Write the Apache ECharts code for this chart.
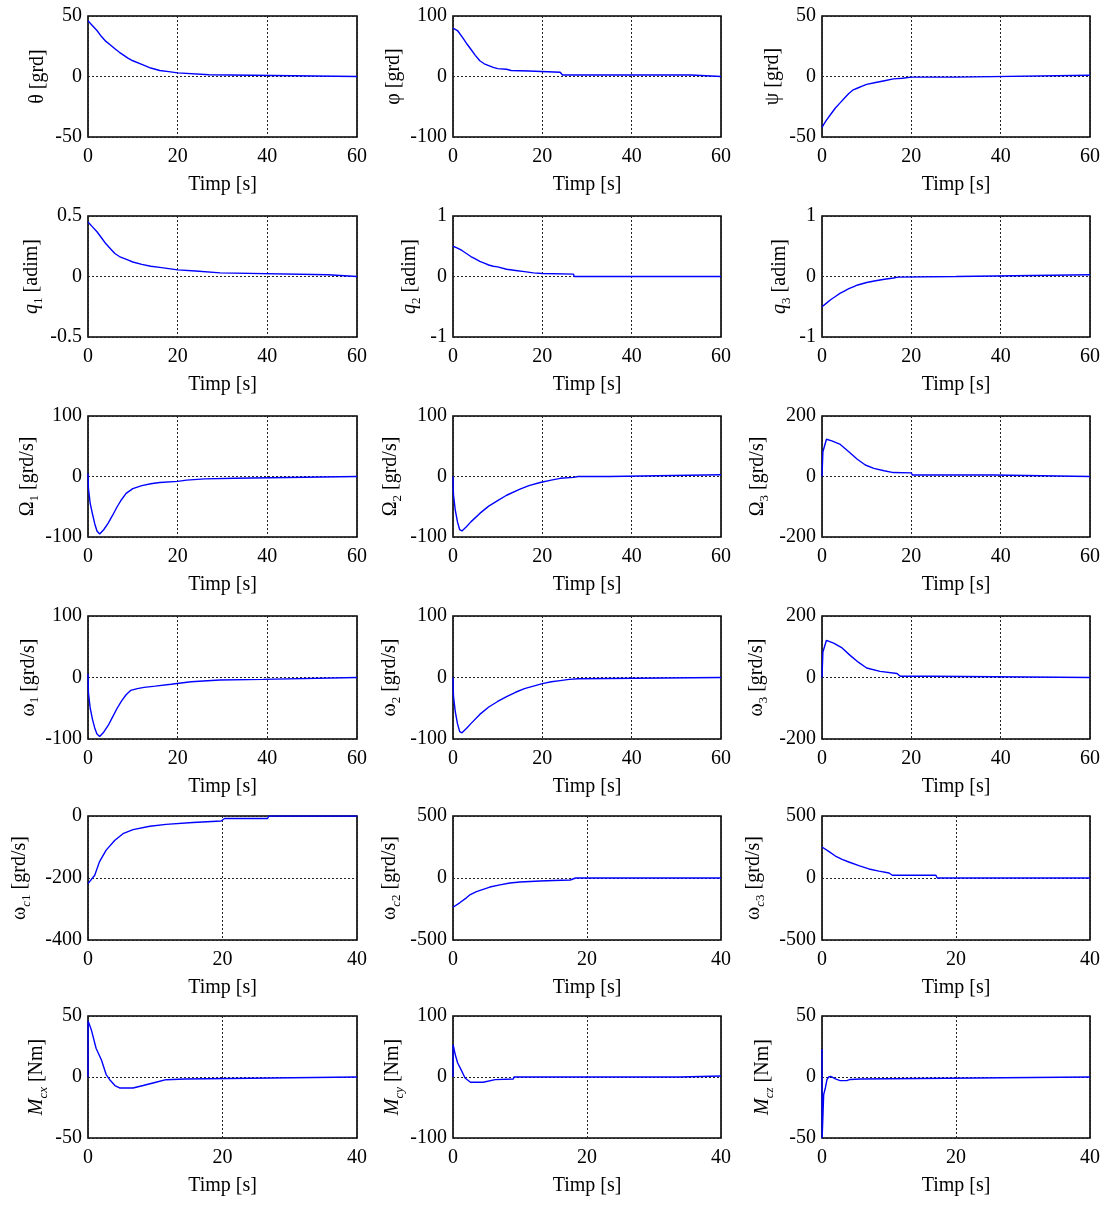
<!DOCTYPE html>
<html><head><meta charset="utf-8">
<script src="https://cdn.jsdelivr.net/npm/echarts@6/dist/echarts.min.js"></script>
<style>html,body{margin:0;padding:0;background:#fff}#c{width:1104px;height:1205px}</style>
</head><body><div id="c"></div>
<script>
// ---- data (time [s], value) ----
const theta = [[0,46],[1,42],[2,38],[3,33],[4,29],[5,26],[6,23],[7,20],[8,17.5],[9,15],[10,13],[12,10],[14,7],[16,5],[18,4],[20,3],[20.2,1.5],[27,1.5],[27.2,0],[60,0]];
const phi = [[0,80],[1,76],[2,66],[3,55],[4,45],[5,35],[6,26],[7,21],[8,18],[9,15],[10,13],[12,12],[13,10],[17,9],[17.2,7],[24,7],[24.5,2.5],[53.3,2.5],[53.5,0],[60,0]];
const psi = [[0,-42],[0.5,-39],[1,-36],[2,-31],[3,-26],[4,-22],[5,-18],[6,-14],[7,-11],[8,-9.5],[9,-8],[10,-6.5],[12,-5],[14,-3.5],[16,-2],[18,-1.5],[20,-0.5],[30,-0.5],[30.3,1],[60,1]];
const q1 = [[0,0.45],[1,0.41],[2,0.37],[3,0.32],[4,0.27],[5,0.23],[6,0.19],[7,0.165],[8,0.15],[9,0.135],[10,0.12],[12,0.1],[14,0.085],[16,0.075],[18,0.065],[20,0.055],[20.1,0.045],[24,0.045],[24.1,0.03],[29.5,0.03],[29.6,0.015],[53.5,0.015],[53.6,0],[60,0]];
const q2 = [[0,0.5],[1,0.47],[2,0.43],[3,0.38],[4,0.33],[5,0.29],[6,0.25],[7,0.22],[8,0.19],[9,0.17],[10,0.16],[12,0.12],[14,0.1],[16,0.08],[18,0.06],[20,0.05],[20.2,0.04],[27,0.04],[27.1,0],[60,0]];
const q3 = [[0,-0.5],[1,-0.44],[2,-0.38],[3,-0.33],[4,-0.28],[5,-0.24],[6,-0.2],[7,-0.17],[8,-0.14],[9,-0.12],[10,-0.1],[12,-0.07],[14,-0.045],[16,-0.025],[17,-0.01],[17.2,0],[30,0],[30.2,0.03],[60,0.03]];
const Om1 = [[0,5],[0.1,-20],[0.5,-45],[1,-62],[1.5,-78],[2,-90],[2.6,-95],[3.5,-88],[4.5,-77],[5.5,-64],[6.5,-50],[7.5,-38],[8.5,-28],[10,-20],[12,-15],[14,-12],[16,-10],[20,-8],[22,-6],[26,-4],[32.7,-3],[33,0],[60,0]];
const Om2 = [[0,0],[0.1,-30],[0.5,-55],[1,-75],[1.5,-88],[2,-90],[3,-83],[4,-75],[6,-61],[8,-49],[10,-40],[12,-31],[15,-21],[17,-15],[19.5,-10],[22,-6],[24,-3],[27,-1.5],[28,0],[35,0],[35.1,3],[60,3]];
const Om3 = [[0,0],[0.2,82],[1,123],[2.2,118],[4.1,106],[6,82],[7.9,57],[9.7,38],[11.6,27],[13.9,19],[16,13],[20,12],[20.2,5],[38.4,5],[38.6,0],[60,0]];
const om1 = [[0,6],[0.1,-25],[0.5,-50],[1,-68],[1.5,-82],[2,-92],[2.6,-96],[3.5,-89],[4.5,-78],[5.5,-64],[6.5,-50],[7.5,-38],[8.5,-28],[9.5,-21],[11,-18],[12.5,-16],[15,-14],[18.5,-11],[23,-7],[29.4,-4],[39,-3],[39.2,0],[60,0]];
const om2 = [[0,0],[0.1,-30],[0.5,-55],[1,-75],[1.5,-88],[2,-90],[3,-83],[4,-75],[6,-60],[8,-48],[10,-39],[12,-31],[14,-24],[16,-18],[18,-14],[20,-10],[22,-7],[24,-5],[26,-3],[28,-2],[28.2,0],[60,0]];
const om3 = [[0,0],[0.2,83],[1,121],[2.6,112],[4.5,96],[6.3,72],[8.2,49],[10,31],[13,20],[16.8,13],[17.5,4],[24.6,4],[24.8,0],[60,0]];
const omc1 = [[0,-218],[1,-191],[1.7,-148],[2.7,-110],[4,-78],[5.2,-57],[6.7,-44],[9.2,-33],[11.6,-27],[15.6,-21],[19.8,-16],[20.3,-8],[26.7,-8],[26.9,0],[40,0]];
const omc2 = [[0,-236],[1,-200],[2,-160],[2.5,-137],[3.5,-110],[5.5,-73],[7,-55],[8.5,-40],[10,-32],[13,-24],[15,-20],[17.5,-16],[18.3,0],[40,0]];
const omc3 = [[0,250],[1,215],[2,177],[3,150],[4,129],[5.5,100],[7,73],[8.5,55],[10,40],[10.5,22],[17,22],[17.2,0],[40,0]];
const Mcx = [[0,0],[0.02,46],[0.5,38.6],[1.2,23.6],[2,14],[2.7,2],[3.2,-2],[4,-7],[4.7,-9],[6.7,-9],[8.2,-7],[10.1,-4.3],[11.6,-2.2],[14.4,-1.6],[14.6,0],[40,0]];
const Mcy = [[0,0],[0.02,53],[0.35,36],[0.7,23],[1.2,12],[1.8,-1.6],[2.6,-8.7],[4.5,-8.7],[4.7,-6.5],[6.3,-4.3],[9,-3.3],[9.1,0],[33.8,0],[34,1.6],[40,1.6]];
const Mcz = [[0,23],[0.02,-50],[0.15,-30],[0.25,-14.5],[0.5,-9],[0.75,-2],[1,0],[1.3,0.5],[2,-1.6],[2.7,-3],[3.7,-3],[4.2,-2],[5.7,-1.6],[5.9,0],[40,0]];

const seriesData = [theta,phi,psi,q1,q2,q3,Om1,Om2,Om3,om1,om2,om3,omc1,omc2,omc3,Mcx,Mcy,Mcz];
const yMins = [-50,-100,-50,-0.5,-1,-1,-100,-100,-200,-100,-100,-200,-400,-500,-500,-50,-100,-50];
const yMaxs = [50,100,50,0.5,1,1,100,100,200,100,100,200,0,500,500,50,100,50];
const xMaxs = [60,60,60,60,60,60,60,60,60,60,60,60,40,40,40,40,40,40];
const xTickStep = 20;
const xName = 'Timp [s]';
const yNames = [
  'θ [grd]','φ [grd]','ψ [grd]',
  '{i|q}{s|1} [adim]','{i|q}{s|2} [adim]','{i|q}{s|3} [adim]',
  'Ω{s|1} [grd/s]','Ω{s|2} [grd/s]','Ω{s|3} [grd/s]',
  'ω{s|1} [grd/s]','ω{s|2} [grd/s]','ω{s|3} [grd/s]',
  'ω{si|c}{s|1} [grd/s]','ω{si|c}{s|2} [grd/s]','ω{si|c}{s|3} [grd/s]',
  '{i|M}{si|cx} [Nm]','{i|M}{si|cy} [Nm]','{i|M}{si|cz} [Nm]'
];

// ---- layout ----
const colLeft = [88, 453, 822];
const colW = [269, 268, 268];
const rowTop = [16, 216, 416, 616, 816, 1016];
const rowH = [121, 121, 121, 123, 124, 122];
const nameGaps = [37,42,36, 43,30,29, 47,49,51, 43,50,52, 55,50,55, 38,47,46];
const FONT = 'Liberation Serif';
const FS = 20;

const grids=[], xAxes=[], yAxes=[], series=[];
for (let k=0;k<18;k++){
  const r=Math.floor(k/3), c=k%3;
  grids.push({left:colLeft[c], top:rowTop[r], width:colW[c], height:rowH[r], show:true, borderColor:'#000', borderWidth:1.6, backgroundColor:'#fff', containLabel:false});
  const dotted = {show:true, lineStyle:{color:'#222', width:1, type:[2,2]}};
  xAxes.push({gridIndex:k, type:'value', min:0, max:xMaxs[k], interval:xTickStep,
    axisLine:{show:false}, axisTick:{show:false}, splitLine:dotted,
    axisLabel:{color:'#000', fontFamily:FONT, fontSize:FS, margin:10, showMinLabel:true, showMaxLabel:true},
    name:xName, nameLocation:'middle', nameGap:38, nameTextStyle:{color:'#000', fontFamily:FONT, fontSize:FS}});
  yAxes.push({gridIndex:k, type:'value', min:yMins[k], max:yMaxs[k], interval:(yMaxs[k]-yMins[k])/2,
    axisLine:{show:false}, axisTick:{show:false}, splitLine:dotted,
    axisLabel:{color:'#000', fontFamily:FONT, fontSize:FS, margin:6, showMinLabel:true, showMaxLabel:true},
    name:yNames[k], nameLocation:'middle', nameGap:nameGaps[k],
    nameTextStyle:{color:'#000', fontFamily:FONT, fontSize:FS, lineHeight:26,
      rich:{
        i:{fontFamily:FONT, fontSize:FS, fontStyle:'italic', color:'#000', lineHeight:26},
        s:{fontFamily:FONT, fontSize:13, color:'#000', lineHeight:12, verticalAlign:'bottom'},
        si:{fontFamily:FONT, fontSize:13, fontStyle:'italic', color:'#000', lineHeight:12, verticalAlign:'bottom'}
      }}});
  series.push({type:'line', xAxisIndex:k, yAxisIndex:k, data:seriesData[k], showSymbol:false, symbol:'none',
    lineStyle:{color:'#0000ff', width:1.4}, animation:false, silent:true, clip:true, z:3});
}
const chart = echarts.init(document.getElementById('c'), null, {renderer:'canvas'});
chart.setOption({animation:false, backgroundColor:'#fff', grid:grids, xAxis:xAxes, yAxis:yAxes, series:series});
</script></body></html>
